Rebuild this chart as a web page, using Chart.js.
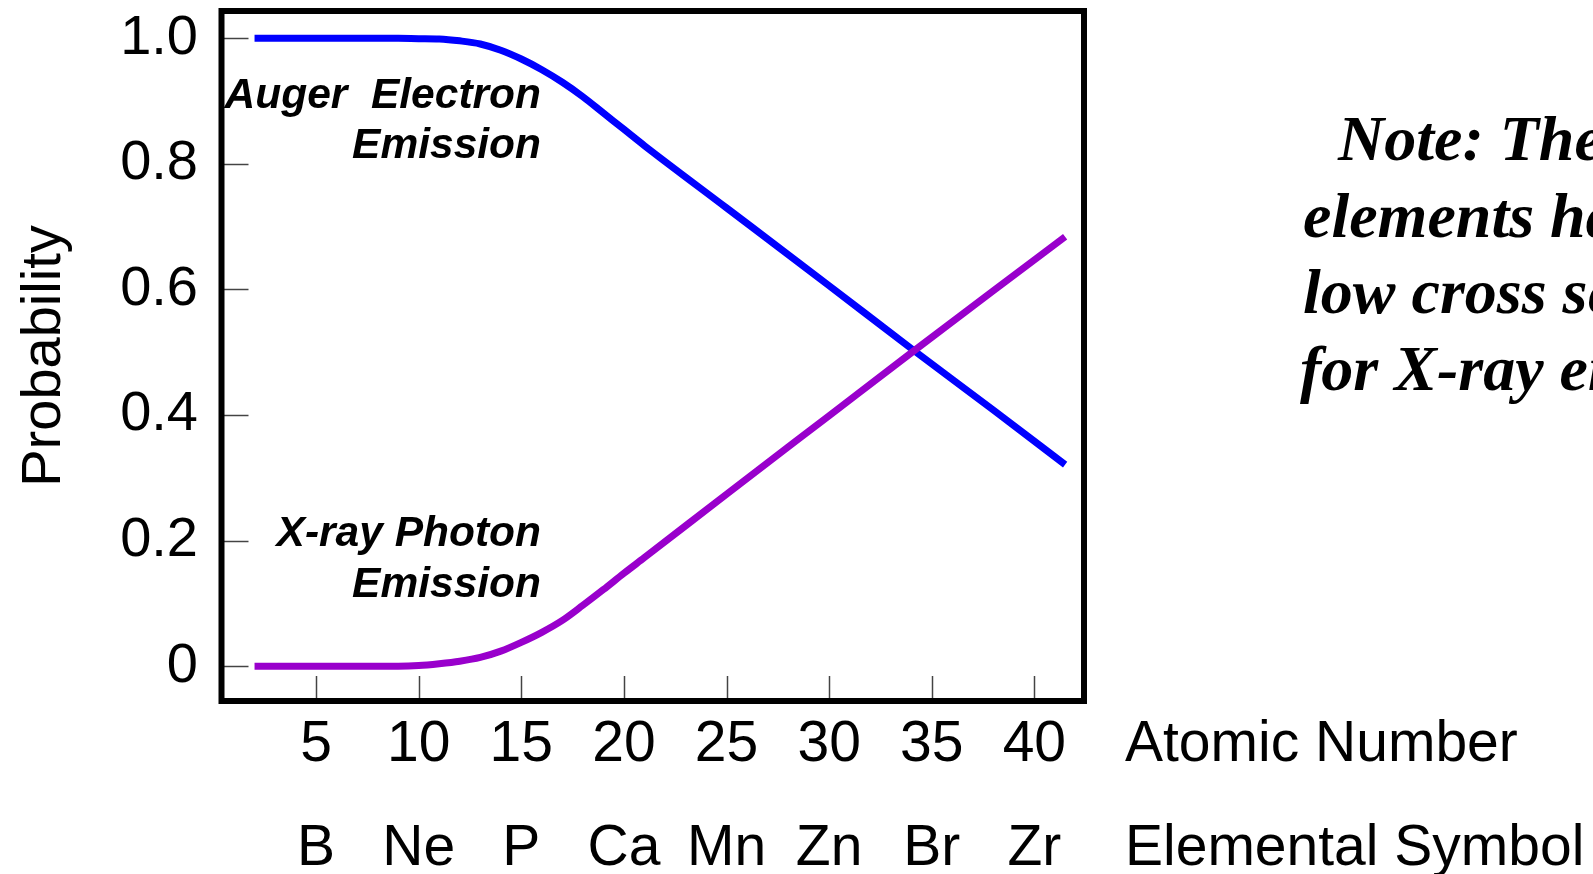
<!DOCTYPE html>
<html>
<head>
<meta charset="utf-8">
<script src="https://cdn.jsdelivr.net/npm/chart.js@4.4.1/dist/chart.umd.min.js"></script>
<style>
  html, body { margin: 0; padding: 0; background: #fff; }
  canvas { display: block; }
</style>
</head>
<body>
<canvas id="augerChart" width="1593" height="874"></canvas>
<script>
// values
const atomicNumbers = [2, 9, 10, 11, 12, 13, 14, 15, 16, 17, 18, 19, 20, 21, 25, 30, 34, 38, 41.5];
const augerProb = [1.0, 1.0, 0.9995, 0.999, 0.996, 0.991, 0.981, 0.967, 0.950, 0.930, 0.907, 0.881, 0.855, 0.829, 0.730, 0.606, 0.506, 0.408, 0.321];
const xrayProb = [0.0, 0.0, 0.001, 0.004, 0.008, 0.014, 0.024, 0.038, 0.054, 0.073, 0.097, 0.122, 0.148, 0.173, 0.274, 0.399, 0.499, 0.598, 0.684];

const xTickValues = [5, 10, 15, 20, 25, 30, 35, 40];
const elementSymbols = ['B', 'Ne', 'P', 'Ca', 'Mn', 'Zn', 'Br', 'Zr'];
const yTickValues = [0, 0.2, 0.4, 0.6, 0.8, 1.0];
const yTickLabels = ['0', '0.2', '0.4', '0.6', '0.8', '1.0'];

const noteLines = ['Note: These light', 'elements have', 'low cross sections', 'for X-ray emission'];

const SANS = "'Liberation Sans', Arial, Helvetica, sans-serif";
const SERIF = "'Liberation Serif', 'Times New Roman', serif";

function toPoints(ys) {
    return atomicNumbers.map((z, i) => ({ x: z, y: ys[i] }));
}

const frameAndText = {
    id: 'frameAndText',
    beforeDatasetsDraw(chart) {
        const { ctx, chartArea: a, scales } = chart;
        ctx.save();
        ctx.strokeStyle = '#444';
        ctx.lineWidth = 1.5;
        // tick marks point into the plot
        yTickValues.forEach(v => {
            const py = Math.round(scales.y.getPixelForValue(v)) + 0.5;
            ctx.beginPath();
            ctx.moveTo(a.left, py);
            ctx.lineTo(a.left + 27, py);
            ctx.stroke();
        });
        xTickValues.forEach(v => {
            const px = Math.round(scales.x.getPixelForValue(v)) + 0.5;
            ctx.beginPath();
            ctx.moveTo(px, a.bottom);
            ctx.lineTo(px, a.bottom - 25);
            ctx.stroke();
        });
        ctx.restore();
    },
    afterDatasetsDraw(chart) {
        const { ctx, chartArea: a } = chart;
        ctx.save();
        ctx.strokeStyle = '#000';
        ctx.lineWidth = 6;
        ctx.lineJoin = 'miter';
        ctx.strokeRect(a.left, a.top, a.right - a.left, a.bottom - a.top);

        ctx.fillStyle = '#000';
        // curve labels
        ctx.font = 'italic bold 42.5px ' + SANS;
        ctx.textAlign = 'right';
        ctx.textBaseline = 'alphabetic';
        ctx.fillText('Auger  Electron', 541, 108);
        ctx.fillText('Emission', 541, 158);
        ctx.fillText('X-ray Photon', 541, 546);
        ctx.fillText('Emission', 541, 597);

        // axis names on the right of the tick rows
        ctx.font = '57px ' + SANS;
        ctx.textAlign = 'left';
        ctx.textBaseline = 'middle';
        ctx.fillText('Atomic Number', 1125, 745);
        ctx.fillText('Elemental Symbol', 1125, 849);

        // y title
        ctx.save();
        ctx.translate(60, 356);
        ctx.rotate(-Math.PI / 2);
        ctx.font = '56px ' + SANS;
        ctx.textAlign = 'center';
        ctx.textBaseline = 'alphabetic';
        ctx.fillText('Probability', 0, 0);
        ctx.restore();

        // note, runs off the right edge like the original
        ctx.font = 'italic bold 64px ' + SERIF;
        ctx.textAlign = 'left';
        ctx.textBaseline = 'alphabetic';
        ctx.fillText(noteLines[0], 1338, 160);
        ctx.fillText(noteLines[1], 1303, 237);
        ctx.fillText(noteLines[2], 1303, 313);
        ctx.fillText(noteLines[3], 1300, 390);
        ctx.restore();
    }
};

new Chart(document.getElementById('augerChart'), {
    type: 'scatter',
    data: {
        datasets: [
            {
                label: 'X-ray Photon Emission',
                data: toPoints(xrayProb),
                showLine: true,
                borderColor: '#9900cc',
                borderWidth: 7,
                pointRadius: 0,
                cubicInterpolationMode: 'monotone',
                order: 0
            },
            {
                label: 'Auger Electron Emission',
                data: toPoints(augerProb),
                showLine: true,
                borderColor: '#0000ff',
                borderWidth: 7,
                pointRadius: 0,
                cubicInterpolationMode: 'monotone',
                order: 1
            }
        ]
    },
    options: {
        responsive: false,
        animation: false,
        devicePixelRatio: 1,
        layout: { padding: { top: 11, right: 509, left: 0, bottom: 0 } },
        plugins: {
            legend: { display: false },
            tooltip: { enabled: false }
        },
        scales: {
            x: {
                type: 'linear',
                min: 0.39,
                max: 42.42,
                grid: { display: false, drawTicks: false },
                border: { display: false },
                afterBuildTicks: s => { s.ticks = xTickValues.map(v => ({ value: v })); },
                afterFit: s => { s.height = 173; s.paddingLeft = 0; s.paddingRight = 0; },
                ticks: {
                    autoSkip: false,
                    maxRotation: 0,
                    padding: -8,
                    color: '#000',
                    font: { family: SANS, size: 57, lineHeight: 1.825 },
                    callback: (v, i) => [String(xTickValues[i]), elementSymbols[i]]
                }
            },
            y: {
                min: -0.0554,
                max: 1.0435,
                grid: { display: false, drawTicks: false },
                border: { display: false },
                afterBuildTicks: s => { s.ticks = yTickValues.map(v => ({ value: v })); },
                afterFit: s => { s.width = 221.5; s.paddingTop = 0; s.paddingBottom = 0; },
                ticks: {
                    padding: 23.5,
                    color: '#000',
                    font: { family: SANS, size: 56 },
                    callback: (v, i) => yTickLabels[i]
                }
            }
        }
    },
    plugins: [frameAndText]
});
</script>
</body>
</html>
